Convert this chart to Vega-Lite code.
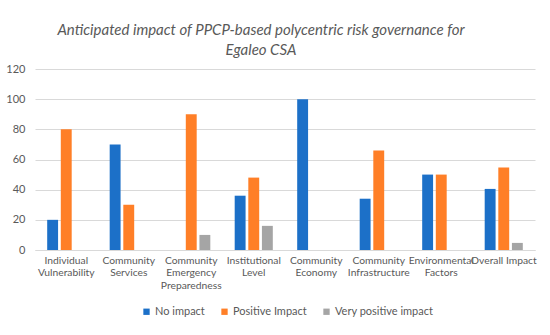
{
  "$schema": "https://vega.github.io/schema/vega-lite/v6.json",
  "autosize": {"type": "none"},
  "width": 500,
  "height": 181,
  "padding": {"left": 35, "top": 69, "right": 15, "bottom": 85},
  "background": "white",
  "title": {
    "text": ["Anticipated impact of PPCP-based polycentric risk governance for", "Egaleo CSA"],
    "font": "Lato",
    "fontSize": 15,
    "fontStyle": "italic",
    "fontWeight": "normal",
    "color": "#595959",
    "anchor": "middle",
    "dx": -24,
    "dy": 7,
    "offset": 12,
    "lineHeight": 20
  },
  "data": {
    "values": [
      {"category": "Individual Vulnerability", "series": "No impact", "value": 20},
      {"category": "Individual Vulnerability", "series": "Positive Impact", "value": 80},
      {"category": "Individual Vulnerability", "series": "Very positive impact", "value": 0},
      {"category": "Community Services", "series": "No impact", "value": 70},
      {"category": "Community Services", "series": "Positive Impact", "value": 30},
      {"category": "Community Services", "series": "Very positive impact", "value": 0},
      {"category": "Community Emergency Preparedness", "series": "No impact", "value": 0},
      {"category": "Community Emergency Preparedness", "series": "Positive Impact", "value": 90},
      {"category": "Community Emergency Preparedness", "series": "Very positive impact", "value": 10},
      {"category": "Institutional Level", "series": "No impact", "value": 36},
      {"category": "Institutional Level", "series": "Positive Impact", "value": 48},
      {"category": "Institutional Level", "series": "Very positive impact", "value": 16},
      {"category": "Community Economy", "series": "No impact", "value": 100},
      {"category": "Community Economy", "series": "Positive Impact", "value": 0},
      {"category": "Community Economy", "series": "Very positive impact", "value": 0},
      {"category": "Community Infrastructure", "series": "No impact", "value": 34},
      {"category": "Community Infrastructure", "series": "Positive Impact", "value": 66},
      {"category": "Community Infrastructure", "series": "Very positive impact", "value": 0},
      {"category": "Environmental Factors", "series": "No impact", "value": 50},
      {"category": "Environmental Factors", "series": "Positive Impact", "value": 50},
      {"category": "Environmental Factors", "series": "Very positive impact", "value": 0},
      {"category": "Overall Impact", "series": "No impact", "value": 40.5},
      {"category": "Overall Impact", "series": "Positive Impact", "value": 54.7},
      {"category": "Overall Impact", "series": "Very positive impact", "value": 4.7}
    ]
  },
  "mark": {"type": "bar"},
  "encoding": {
    "x": {
      "field": "category",
      "type": "nominal",
      "sort": null,
      "scale": {"paddingInner": 0.39, "paddingOuter": 0.195},
      "axis": {
        "title": null,
        "labelAngle": 0,
        "labelFont": "Lato",
        "labelFontSize": 10.3,
        "labelColor": "#595959",
        "labelLineHeight": 12.5,
        "labelPadding": 5,
        "ticks": false,
        "domainColor": "#d9d9d9",
        "labelLimit": 0,
        "labelExpr": "datum.label == 'Overall Impact' ? datum.label : split(datum.label, ' ')"
      }
    },
    "xOffset": {
      "field": "series",
      "type": "nominal",
      "scale": {"paddingInner": 0.2, "paddingOuter": 0}
    },
    "y": {
      "field": "value",
      "type": "quantitative",
      "scale": {"domain": [0, 120]},
      "axis": {
        "title": null,
        "values": [0, 20, 40, 60, 80, 100, 120],
        "labelFont": "Lato",
        "labelFontSize": 11,
        "labelColor": "#595959",
        "labelPadding": 10,
        "ticks": false,
        "domain": false,
        "gridColor": "#d9d9d9",
        "gridWidth": 1
      }
    },
    "color": {
      "field": "series",
      "type": "nominal",
      "scale": {
        "domain": ["No impact", "Positive Impact", "Very positive impact"],
        "range": ["#1C70C8", "#FF7F27", "#A5A5A5"]
      },
      "legend": {
        "title": null,
        "orient": "none",
        "direction": "horizontal",
        "legendX": 106,
        "legendY": 237,
        "symbolType": "square",
        "symbolSize": 40,
        "symbolStrokeWidth": 0,
        "labelFont": "Lato",
        "labelFontSize": 11,
        "labelColor": "#595959",
        "columnPadding": 14,
        "labelOffset": 3
      }
    }
  },
  "config": {"view": {"stroke": null}}
}
